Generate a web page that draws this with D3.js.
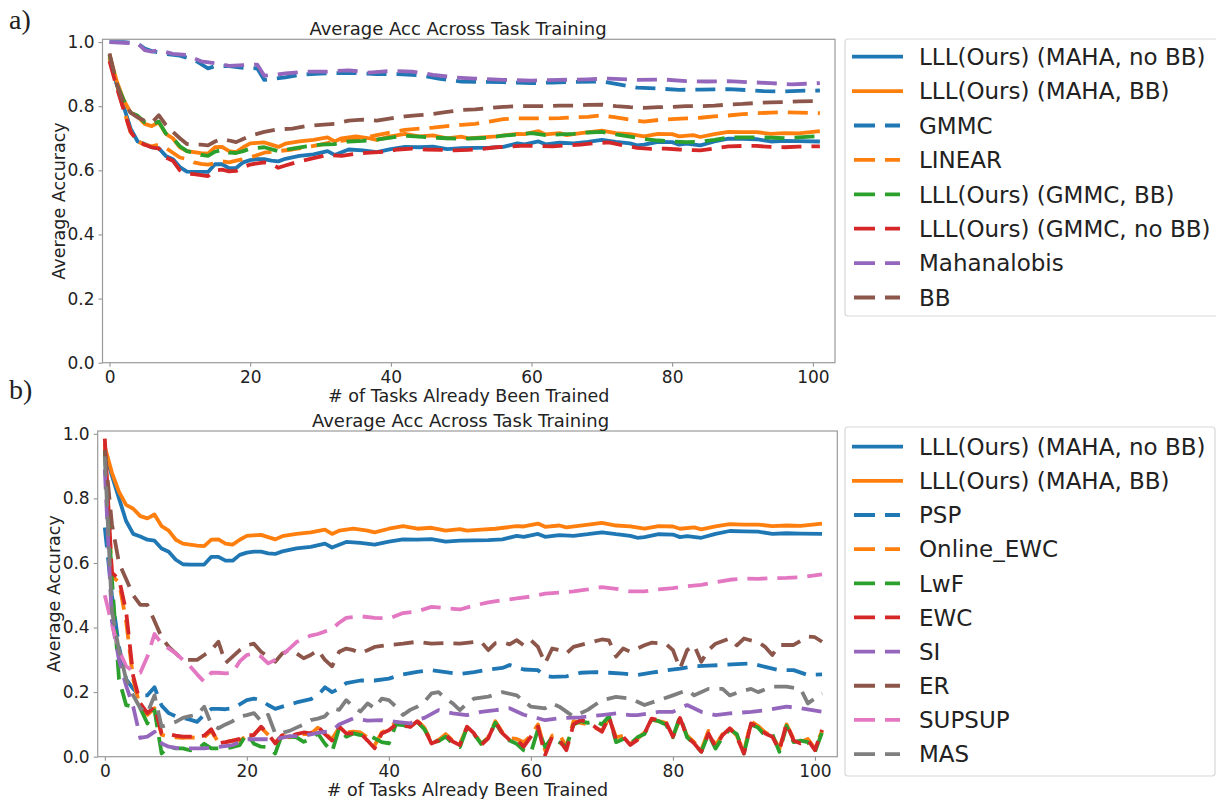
<!DOCTYPE html>
<html><head><meta charset="utf-8">
<script src="https://cdn.jsdelivr.net/npm/d3@7/dist/d3.min.js"></script>
<style>
html,body{margin:0;padding:0;background:#fff;}
svg text{font-family:"DejaVu Sans",sans-serif;fill:#222;}
</style></head>
<body>
<svg id="chart" width="1216" height="799"></svg>
<script>
// ---------- data (x = # tasks trained, y = average accuracy) ----------
const mahaNoBB = [[0,0.95],[1,0.87],[2,0.8],[3,0.73],[4,0.69],[5,0.682],[6,0.672],[7,0.669],[8,0.645],[9,0.635],[10,0.61],[11,0.596],[12,0.595],[13,0.595],[14,0.595],[15,0.619],[16,0.619],[17,0.607],[18,0.607],[19,0.625],[20,0.632],[21,0.635],[22,0.635],[23,0.63],[24,0.628],[25,0.636],[27,0.645],[29,0.65],[31,0.66],[32,0.648],[34,0.665],[36,0.662],[38,0.657],[40,0.666],[42,0.673],[44,0.672],[46,0.674],[48,0.666],[50,0.669],[52,0.67],[54,0.671],[56,0.673],[58,0.684],[59,0.681],[61,0.69],[62,0.681],[64,0.686],[66,0.684],[68,0.689],[70,0.695],[72,0.689],[74,0.684],[75,0.678],[76,0.68],[78,0.689],[80,0.688],[81,0.68],[82,0.683],[84,0.678],[86,0.69],[88,0.699],[90,0.698],[92,0.697],[94,0.69],[96,0.692],[98,0.691],[101,0.69]];
const mahaBB = [[0,0.96],[1,0.88],[2,0.82],[3,0.78],[4,0.768],[5,0.745],[6,0.738],[7,0.75],[8,0.714],[9,0.7],[10,0.672],[11,0.66],[12,0.657],[13,0.654],[14,0.652],[15,0.672],[16,0.673],[17,0.66],[18,0.657],[19,0.672],[20,0.684],[22,0.687],[23,0.68],[24,0.673],[25,0.683],[27,0.69],[29,0.695],[31,0.703],[32,0.69],[33,0.7],[35,0.706],[37,0.7],[38,0.695],[40,0.706],[42,0.714],[44,0.706],[46,0.709],[48,0.7],[50,0.705],[51,0.7],[53,0.703],[55,0.706],[58,0.714],[59,0.713],[61,0.722],[62,0.712],[64,0.716],[65,0.71],[67,0.716],[70,0.724],[72,0.716],[74,0.713],[76,0.706],[78,0.714],[80,0.713],[81,0.706],[83,0.71],[84,0.704],[86,0.713],[88,0.72],[90,0.719],[92,0.719],[94,0.714],[96,0.716],[98,0.715],[101,0.722]];
// panel a
const gmmc = [[0,1.0],[2,1.0],[4,0.996],[5,0.98],[6,0.972],[8,0.963],[10,0.958],[12,0.945],[14,0.918],[15,0.925],[17,0.925],[19,0.92],[21,0.918],[22,0.882],[25,0.89],[27,0.898],[30,0.902],[32,0.903],[35,0.903],[38,0.9],[41,0.9],[44,0.897],[47,0.885],[50,0.877],[53,0.876],[56,0.875],[60,0.872],[63,0.874],[66,0.876],[70,0.877],[72,0.87],[75,0.858],[78,0.855],[81,0.851],[84,0.852],[88,0.853],[91,0.85],[93,0.847],[96,0.846],[98,0.848],[101,0.849]];
const linear = [[0,0.95],[1,0.87],[2,0.79],[3,0.72],[4,0.69],[5,0.68],[6,0.675],[7,0.68],[8,0.67],[9,0.655],[10,0.64],[11,0.635],[12,0.625],[13,0.62],[14,0.618],[15,0.622],[16,0.628],[17,0.625],[18,0.63],[20,0.64],[22,0.655],[24,0.66],[26,0.665],[28,0.672],[30,0.68],[32,0.69],[34,0.695],[36,0.7],[38,0.71],[40,0.718],[42,0.726],[44,0.73],[46,0.733],[48,0.738],[50,0.742],[52,0.745],[54,0.752],[56,0.76],[58,0.762],[60,0.762],[62,0.762],[64,0.763],[66,0.765],[68,0.767],[70,0.772],[72,0.765],[74,0.758],[76,0.752],[78,0.757],[80,0.76],[82,0.762],[84,0.764],[86,0.768],[88,0.771],[90,0.775],[92,0.778],[94,0.78],[96,0.781],[98,0.78],[101,0.778]];
const gmmcBB = [[0,0.96],[1,0.87],[2,0.82],[3,0.78],[4,0.77],[5,0.75],[6,0.742],[7,0.752],[8,0.715],[9,0.7],[10,0.675],[11,0.66],[12,0.655],[13,0.648],[14,0.645],[15,0.658],[16,0.664],[17,0.655],[18,0.654],[19,0.66],[20,0.668],[22,0.672],[24,0.66],[26,0.668],[28,0.675],[30,0.68],[32,0.682],[34,0.69],[36,0.692],[38,0.696],[40,0.702],[42,0.708],[44,0.705],[46,0.702],[48,0.7],[50,0.698],[52,0.7],[54,0.702],[56,0.708],[58,0.712],[60,0.716],[62,0.71],[64,0.712],[66,0.714],[68,0.718],[70,0.72],[72,0.712],[74,0.705],[76,0.698],[78,0.693],[80,0.69],[82,0.688],[84,0.689],[86,0.695],[88,0.702],[90,0.703],[92,0.703],[94,0.702],[96,0.7],[98,0.703],[101,0.707]];
const gmmcNoBB = [[0,0.94],[1,0.86],[2,0.79],[3,0.72],[4,0.69],[5,0.68],[6,0.672],[7,0.668],[8,0.64],[9,0.63],[10,0.6],[11,0.59],[12,0.588],[13,0.585],[14,0.582],[15,0.6],[16,0.602],[17,0.597],[18,0.598],[19,0.61],[20,0.618],[21,0.622],[22,0.625],[23,0.62],[24,0.608],[25,0.615],[27,0.628],[29,0.638],[31,0.648],[33,0.645],[35,0.652],[37,0.655],[39,0.658],[41,0.665],[43,0.668],[45,0.665],[47,0.664],[49,0.662],[51,0.664],[53,0.667],[55,0.672],[57,0.674],[59,0.677],[61,0.676],[63,0.675],[65,0.678],[67,0.68],[69,0.685],[71,0.687],[73,0.678],[75,0.67],[77,0.667],[79,0.668],[81,0.665],[83,0.663],[84,0.662],[86,0.668],[88,0.675],[90,0.676],[92,0.676],[94,0.673],[96,0.672],[98,0.674],[101,0.675]];
const mahalanobis = [[0,1.0],[2,0.998],[4,0.996],[5,0.975],[6,0.97],[7,0.975],[9,0.963],[11,0.96],[13,0.94],[15,0.934],[17,0.926],[19,0.928],[21,0.93],[22,0.895],[25,0.902],[28,0.908],[31,0.908],[34,0.912],[37,0.905],[40,0.91],[43,0.908],[46,0.898],[49,0.89],[52,0.886],[56,0.882],[60,0.88],[64,0.882],[68,0.884],[71,0.886],[75,0.882],[79,0.883],[82,0.878],[85,0.877],[88,0.878],[91,0.875],[94,0.872],[97,0.868],[99,0.87],[101,0.872]];
const bb = [[0,0.965],[1,0.87],[2,0.81],[3,0.78],[4,0.765],[5,0.755],[6,0.748],[7,0.772],[8,0.742],[9,0.72],[10,0.7],[11,0.682],[12,0.68],[13,0.68],[14,0.678],[15,0.69],[16,0.698],[17,0.693],[18,0.688],[19,0.698],[20,0.708],[22,0.72],[24,0.728],[26,0.73],[28,0.738],[30,0.742],[32,0.745],[34,0.755],[36,0.758],[38,0.755],[40,0.762],[42,0.768],[44,0.772],[46,0.776],[48,0.782],[50,0.788],[52,0.79],[54,0.795],[56,0.798],[58,0.8],[60,0.8],[62,0.8],[64,0.802],[66,0.802],[68,0.804],[70,0.805],[72,0.8],[74,0.797],[76,0.795],[78,0.797],[80,0.798],[82,0.8],[84,0.8],[86,0.802],[88,0.805],[90,0.807],[92,0.81],[94,0.812],[96,0.813],[98,0.815],[101,0.816]];
// panel b
const psp = [[0,0.71],[1,0.5],[2,0.34],[3,0.24],[4,0.21],[5,0.19],[6,0.19],[7,0.215],[8,0.158],[9,0.135],[10,0.125],[11,0.12],[12,0.115],[13,0.108],[14,0.13],[15,0.148],[16,0.148],[17,0.147],[18,0.15],[19,0.162],[20,0.175],[21,0.18],[22,0.175],[23,0.16],[24,0.148],[25,0.155],[27,0.168],[29,0.178],[30,0.19],[31,0.215],[32,0.2],[33,0.21],[34,0.228],[36,0.236],[38,0.236],[40,0.242],[42,0.255],[44,0.263],[46,0.268],[48,0.262],[50,0.256],[52,0.262],[54,0.27],[56,0.275],[57,0.284],[59,0.27],[61,0.268],[62,0.25],[63,0.247],[65,0.249],[67,0.26],[69,0.262],[71,0.26],[73,0.257],[75,0.253],[77,0.26],[79,0.267],[81,0.273],[83,0.28],[85,0.282],[87,0.284],[89,0.287],[91,0.289],[93,0.278],[95,0.268],[97,0.268],[99,0.253],[101,0.255]];
const onlineEWC = [[0,0.97],[1,0.56],[2,0.54],[3,0.42],[4,0.24],[5,0.15],[6,0.13],[7,0.15],[8,0.068],[9,0.062],[10,0.06],[11,0.058],[12,0.06],[13,0.058],[14,0.06],[15,0.08],[16,0.045],[17,0.045],[18,0.05],[19,0.05],[20,0.065],[21,0.07],[22,0.09],[23,0.068],[24,0.045],[25,0.065],[26,0.06],[27,0.065],[28,0.07],[29,0.07],[30,0.09],[31,0.072],[32,0.055],[33,0.09],[34,0.075],[35,0.078],[36,0.075],[37,0.06],[38,0.035],[39,0.075],[40,0.085],[41,0.108],[42,0.1],[43,0.095],[44,0.112],[45,0.09],[46,0.045],[47,0.052],[48,0.07],[49,0.05],[50,0.04],[51,0.09],[52,0.075],[53,0.04],[54,0.06],[55,0.11],[56,0.075],[57,0.058],[58,0.055],[59,0.045],[60,0.065],[61,0.1],[62,0.02],[63,0.065],[64,0.07],[65,0.03],[66,0.11],[67,0.105],[68,0.1],[69,0.09],[70,0.08],[71,0.12],[72,0.06],[73,0.065],[74,0.04],[75,0.055],[76,0.075],[77,0.115],[78,0.11],[79,0.105],[80,0.065],[81,0.115],[82,0.065],[83,0.045],[84,0.02],[85,0.08],[86,0.035],[87,0.07],[88,0.09],[89,0.065],[90,0.015],[91,0.11],[92,0.095],[93,0.075],[94,0.065],[95,0.025],[96,0.1],[97,0.055],[98,0.045],[99,0.055],[100,0.025],[101,0.08]];
const lwf = [[0,0.95],[1,0.55],[2,0.24],[3,0.16],[4,0.155],[5,0.15],[6,0.103],[7,0.144],[8,0.01],[9,0.031],[10,0.026],[11,0.026],[12,0.02],[13,0.022],[14,0.04],[15,0.026],[16,0.026],[17,0.026],[18,0.03],[19,0.036],[20,0.072],[21,0.04],[22,0.031],[23,0.03],[24,0.01],[25,0.072],[26,0.062],[27,0.06],[28,0.046],[29,0.055],[30,0.072],[31,0.04],[32,0.015],[33,0.088],[34,0.062],[35,0.072],[36,0.067],[37,0.067],[38,0.057],[39,0.045],[40,0.041],[41,0.1],[42,0.098],[43,0.09],[44,0.108],[45,0.085],[46,0.045],[47,0.048],[48,0.062],[49,0.04],[50,0.03],[51,0.09],[52,0.07],[53,0.04],[54,0.058],[55,0.105],[56,0.07],[57,0.05],[58,0.04],[59,0.02],[60,0.012],[61,0.085],[62,0.03],[63,0.06],[64,0.045],[65,0.03],[66,0.1],[67,0.11],[68,0.105],[69,0.11],[70,0.1],[71,0.125],[72,0.045],[73,0.055],[74,0.04],[75,0.06],[76,0.07],[77,0.115],[78,0.11],[79,0.1],[80,0.06],[81,0.125],[82,0.06],[83,0.04],[84,0.015],[85,0.07],[86,0.025],[87,0.06],[88,0.085],[89,0.07],[90,0.01],[91,0.1],[92,0.09],[93,0.065],[94,0.07],[95,0.015],[96,0.095],[97,0.045],[98,0.05],[99,0.045],[100,0.015],[101,0.075]];
const ewc = [[0,0.985],[1,0.57],[2,0.55],[3,0.45],[4,0.25],[5,0.165],[6,0.135],[7,0.155],[8,0.072],[9,0.07],[10,0.065],[11,0.062],[12,0.062],[13,0.063],[14,0.065],[15,0.085],[16,0.042],[17,0.045],[18,0.05],[19,0.055],[20,0.067],[21,0.067],[22,0.093],[23,0.07],[24,0.041],[25,0.067],[26,0.062],[27,0.07],[28,0.075],[29,0.072],[30,0.093],[31,0.07],[32,0.05],[33,0.093],[34,0.072],[35,0.072],[36,0.072],[37,0.05],[38,0.026],[39,0.072],[40,0.082],[41,0.1],[42,0.098],[43,0.092],[44,0.11],[45,0.088],[46,0.041],[47,0.05],[48,0.067],[49,0.047],[50,0.036],[51,0.093],[52,0.072],[53,0.036],[54,0.057],[55,0.108],[56,0.072],[57,0.052],[58,0.052],[59,0.031],[60,0.062],[61,0.093],[62,0.005],[63,0.062],[64,0.052],[65,0.02],[66,0.1],[67,0.113],[68,0.108],[69,0.093],[70,0.077],[71,0.124],[72,0.052],[73,0.062],[74,0.036],[75,0.052],[76,0.072],[77,0.118],[78,0.113],[79,0.108],[80,0.062],[81,0.12],[82,0.062],[83,0.041],[84,0.015],[85,0.072],[86,0.031],[87,0.067],[88,0.088],[89,0.062],[90,0.01],[91,0.103],[92,0.093],[93,0.072],[94,0.062],[95,0.02],[96,0.103],[97,0.05],[98,0.041],[99,0.052],[100,0.02],[101,0.083]];
const si = [[0,0.89],[1,0.42],[2,0.3],[3,0.22],[4,0.155],[5,0.058],[6,0.062],[7,0.077],[8,0.041],[9,0.031],[10,0.027],[12,0.026],[14,0.026],[16,0.03],[18,0.036],[20,0.054],[22,0.054],[24,0.054],[26,0.064],[28,0.064],[30,0.074],[32,0.08],[33,0.1],[35,0.119],[37,0.112],[39,0.113],[41,0.108],[43,0.103],[44,0.114],[45,0.12],[47,0.144],[49,0.134],[51,0.129],[53,0.139],[55,0.144],[57,0.15],[59,0.13],[61,0.119],[62,0.113],[64,0.119],[67,0.122],[70,0.129],[72,0.134],[74,0.129],[75,0.129],[78,0.139],[80,0.139],[82,0.16],[84,0.139],[86,0.129],[88,0.134],[91,0.139],[93,0.144],[96,0.155],[98,0.15],[101,0.139]];
const er = [[0,0.95],[1,0.72],[2,0.6],[3,0.55],[4,0.5],[5,0.47],[6,0.47],[7,0.42],[8,0.37],[9,0.34],[10,0.32],[11,0.3],[12,0.3],[13,0.3],[14,0.315],[15,0.33],[16,0.356],[17,0.29],[18,0.31],[19,0.33],[20,0.345],[21,0.35],[22,0.325],[23,0.31],[24,0.294],[25,0.32],[26,0.33],[27,0.32],[28,0.305],[29,0.315],[30,0.33],[31,0.3],[32,0.28],[33,0.325],[34,0.335],[35,0.33],[36,0.32],[37,0.33],[38,0.34],[40,0.346],[42,0.35],[44,0.356],[46,0.35],[48,0.352],[50,0.35],[52,0.355],[53,0.356],[54,0.33],[55,0.352],[56,0.355],[57,0.348],[58,0.361],[59,0.345],[60,0.361],[61,0.34],[62,0.289],[63,0.335],[64,0.33],[65,0.32],[66,0.34],[68,0.352],[70,0.363],[71,0.36],[72,0.31],[73,0.335],[74,0.325],[75,0.335],[76,0.345],[77,0.353],[79,0.35],[80,0.33],[81,0.273],[82,0.33],[83,0.345],[84,0.294],[85,0.33],[86,0.35],[88,0.366],[89,0.345],[90,0.366],[91,0.36],[92,0.355],[93,0.34],[94,0.315],[95,0.346],[97,0.346],[99,0.372],[100,0.37],[101,0.356]];
const supsup = [[0,0.5],[1,0.41],[2,0.33],[3,0.28],[4,0.265],[5,0.26],[6,0.31],[7,0.38],[8,0.35],[9,0.335],[10,0.32],[11,0.3],[12,0.28],[13,0.255],[14,0.232],[15,0.26],[16,0.26],[17,0.258],[18,0.26],[19,0.295],[20,0.315],[21,0.32],[22,0.31],[23,0.289],[24,0.3],[25,0.315],[26,0.335],[27,0.355],[28,0.366],[29,0.375],[30,0.38],[31,0.388],[32,0.395],[33,0.415],[34,0.43],[36,0.435],[38,0.43],[40,0.428],[42,0.445],[44,0.45],[46,0.464],[48,0.46],[50,0.456],[52,0.468],[54,0.478],[56,0.485],[58,0.49],[60,0.496],[62,0.505],[64,0.508],[66,0.512],[68,0.518],[70,0.525],[72,0.52],[74,0.512],[76,0.512],[78,0.518],[80,0.522],[82,0.528],[84,0.532],[86,0.54],[88,0.548],[90,0.552],[92,0.551],[94,0.553],[96,0.554],[98,0.556],[101,0.565]];
const mas = [[0,0.93],[1,0.45],[2,0.33],[3,0.24],[4,0.19],[5,0.15],[6,0.135],[7,0.19],[8,0.093],[9,0.1],[10,0.108],[11,0.12],[12,0.126],[13,0.13],[14,0.155],[15,0.1],[16,0.088],[17,0.1],[18,0.11],[19,0.125],[20,0.129],[21,0.135],[22,0.11],[23,0.13],[24,0.072],[25,0.074],[26,0.08],[27,0.09],[28,0.1],[29,0.113],[30,0.118],[31,0.125],[32,0.15],[33,0.145],[34,0.175],[35,0.155],[36,0.14],[37,0.165],[38,0.15],[39,0.18],[40,0.175],[41,0.155],[42,0.129],[43,0.145],[44,0.155],[45,0.17],[46,0.196],[47,0.2],[48,0.18],[49,0.165],[50,0.144],[51,0.165],[52,0.18],[54,0.186],[56,0.2],[58,0.19],[60,0.155],[62,0.15],[63,0.165],[64,0.155],[66,0.124],[68,0.145],[70,0.175],[72,0.185],[74,0.18],[76,0.16],[78,0.175],[80,0.19],[82,0.206],[83,0.19],[85,0.21],[87,0.21],[88,0.19],[90,0.205],[91,0.21],[92,0.2],[94,0.217],[96,0.217],[98,0.21],[99,0.165],[101,0.196]];

const xTicks = [0, 20, 40, 60, 80, 100];
const yTicks = [0.0, 0.2, 0.4, 0.6, 0.8, 1.0];
const titleText = "Average Acc Across Task Training";
const xLabelText = "# of Tasks Already Been Trained";
const yLabelText = "Average Accuracy";

const C = {blue:"#1f77b4", orange:"#ff7f0e", green:"#2ca02c", red:"#d62728", purple:"#9467bd", brown:"#8c564b", pink:"#e377c2", gray:"#7f7f7f"};

const seriesA = [
  {name:"LLL(Ours) (MAHA, no BB)", data:mahaNoBB, color:C.blue, dashed:false},
  {name:"LLL(Ours) (MAHA, BB)", data:mahaBB, color:C.orange, dashed:false},
  {name:"GMMC", data:gmmc, color:C.blue, dashed:true},
  {name:"LINEAR", data:linear, color:C.orange, dashed:true},
  {name:"LLL(Ours) (GMMC, BB)", data:gmmcBB, color:C.green, dashed:true},
  {name:"LLL(Ours) (GMMC, no BB)", data:gmmcNoBB, color:C.red, dashed:true},
  {name:"Mahanalobis", data:mahalanobis, color:C.purple, dashed:true},
  {name:"BB", data:bb, color:C.brown, dashed:true}
];
const seriesB = [
  {name:"LLL(Ours) (MAHA, no BB)", data:mahaNoBB, color:C.blue, dashed:false},
  {name:"LLL(Ours) (MAHA, BB)", data:mahaBB, color:C.orange, dashed:false},
  {name:"PSP", data:psp, color:C.blue, dashed:true},
  {name:"Online_EWC", data:onlineEWC, color:C.orange, dashed:true},
  {name:"LwF", data:lwf, color:C.green, dashed:true},
  {name:"EWC", data:ewc, color:C.red, dashed:true},
  {name:"SI", data:si, color:C.purple, dashed:true},
  {name:"ER", data:er, color:C.brown, dashed:true},
  {name:"SUPSUP", data:supsup, color:C.pink, dashed:true},
  {name:"MAS", data:mas, color:C.gray, dashed:true}
];

const svg = d3.select("#chart");
const LW = 3.8, DASH = "20,10";

function panel(box, series, legBox, letter, letterY, titleX) {
  const x = d3.scaleLinear().domain([-1, 103.15]).range([box.l, box.r]);
  const y = d3.scaleLinear().domain([0, 1.0087]).range([box.b, box.t]);
  const g = svg.append("g");
  const clipId = "clip" + letter;
  g.append("clipPath").attr("id", clipId).append("rect")
    .attr("x", box.l).attr("y", box.t).attr("width", box.r - box.l).attr("height", box.b - box.t);
  const line = d3.line().x(d => x(d[0])).y(d => y(d[1])).curve(d3.curveLinear);
  const lines = g.append("g").attr("clip-path", `url(#${clipId})`);
  series.forEach(s => {
    lines.append("path").attr("d", line(s.data)).attr("fill", "none")
      .attr("stroke", s.color).attr("stroke-width", LW)
      .attr("stroke-linejoin", "round")
      .attr("stroke-dasharray", s.dashed ? DASH : null);
  });
  // axes
  const xa = g.append("g").attr("transform", `translate(0,${box.b})`)
    .call(d3.axisBottom(x).tickValues(xTicks).tickFormat(d3.format("d")).tickSize(4).tickPadding(4));
  const ya = g.append("g").attr("transform", `translate(${box.l},0)`)
    .call(d3.axisLeft(y).tickValues(yTicks).tickFormat(d3.format(".1f")).tickSize(4).tickPadding(4));
  [xa, ya].forEach(a => {
    a.select(".domain").remove();
    a.selectAll("line").attr("stroke", "#8a8a8a").attr("stroke-width", 1);
    a.selectAll("text").attr("font-size", 17).attr("fill", "#222").attr("font-family", "DejaVu Sans");
  });
  g.append("rect").attr("x", box.l).attr("y", box.t).attr("width", box.r - box.l).attr("height", box.b - box.t)
    .attr("fill", "none").attr("stroke", "#9a9a9a").attr("stroke-width", 1.2);
  // title & labels
  g.append("text").attr("x", titleX).attr("y", box.t - 4).attr("text-anchor", "middle")
    .attr("font-size", 18).text(titleText);
  g.append("text").attr("x", (box.l + box.r) / 2).attr("y", box.b + 39).attr("text-anchor", "middle")
    .attr("font-size", 17.5).text(xLabelText);
  g.append("text").attr("transform", `translate(${box.l - 38},${(box.t + box.b) / 2}) rotate(-90)`)
    .attr("text-anchor", "middle").attr("font-size", 17.5).text(yLabelText);
  g.append("text").attr("x", 9).attr("y", letterY)
    .attr("font-size", 28).style("font-family", "'Liberation Serif', serif").text(letter + ")");
  // legend
  const lg = svg.append("g");
  lg.append("rect").attr("x", legBox.l).attr("y", legBox.t).attr("width", legBox.w).attr("height", legBox.h)
    .attr("rx", 3).attr("fill", "#fff").attr("stroke", "#d8d8d8").attr("stroke-width", 1.2);
  series.forEach((s, i) => {
    const cy = legBox.first + i * legBox.step;
    lg.append("line").attr("x1", s.dashed ? 854 : 852).attr("x2", s.dashed ? 900 : 903)
      .attr("y1", cy).attr("y2", cy).attr("stroke", s.color).attr("stroke-width", LW)
      .attr("stroke-dasharray", s.dashed ? "21,10" : null);
    lg.append("text").attr("x", 919).attr("y", cy).attr("dy", "0.36em")
      .attr("font-size", 23).text(s.name);
  });
}

panel({l:102.5, r:835, t:39.3, b:362.7}, seriesA,
      {l:845, t:39, w:380, h:277, first:56.7, step:34.4}, "a", 29, 458);
panel({l:97.7, r:837.3, t:431, b:756.7}, seriesB,
      {l:845, t:427, w:370, h:349, first:446.7, step:34.15}, "b", 399, 460.5);
</script>
</body></html>
